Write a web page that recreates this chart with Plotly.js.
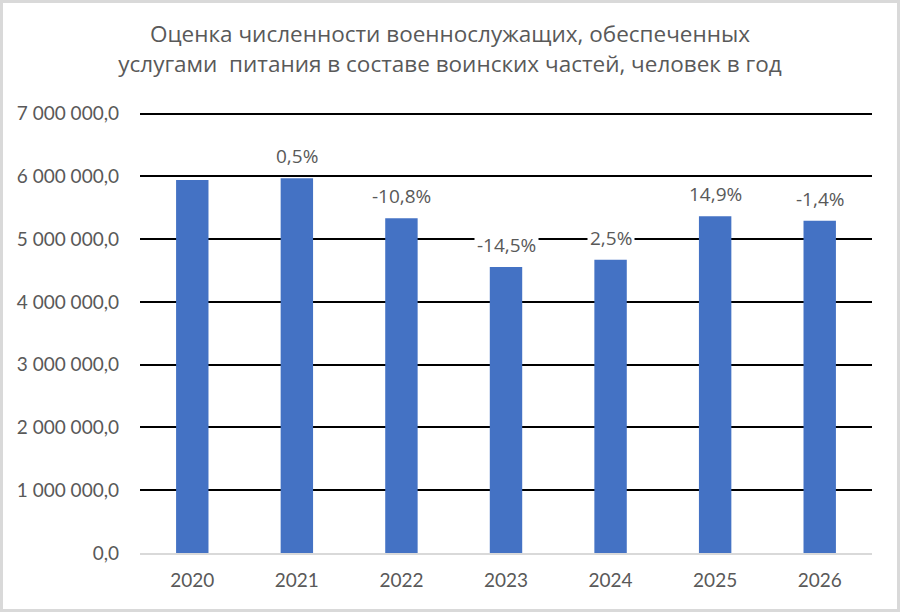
<!DOCTYPE html>
<html>
<head>
<meta charset="utf-8">
<script src="https://cdn.plot.ly/plotly-3.0.1.min.js"></script>
<style>
  html, body { margin: 0; padding: 0; background: #fff; }
  #chart { width: 900px; height: 612px; box-sizing: border-box; border: 3px solid #d9d9d9; }
</style>
</head>
<body>
<div id="chart"></div>
<script>
// values
const years = ['2020', '2021', '2022', '2023', '2024', '2025', '2026'];
const people = [5940000, 5970000, 5330000, 4555000, 4670000, 5365000, 5290000];
const growth = ['', '0,5%', '-10,8%', '-14,5%', '2,5%', '14,9%', '-1,4%'];
const yTicks = [0, 1000000, 2000000, 3000000, 4000000, 5000000, 6000000, 7000000];

const font = 'Lato, "Open Sans", sans-serif';
const titleFont = '"Open Sans", Lato, sans-serif';
const grey = '#595959';

const trace = {
  type: 'bar',
  x: years,
  y: people,
  marker: {color: '#4472c4'},
  width: 0.31,
  hoverinfo: 'skip'
};

// growth labels above the bars, white box cuts the gridline like in the original
// (category axis -> annotation x is the category index)
const notes = years.map((yr, i) => ({
  x: i,
  y: people[i],
  text: growth[i],
  showarrow: false,
  yanchor: 'bottom',
  yshift: 6,
  bgcolor: '#ffffff',
  borderpad: 2,
  font: {family: titleFont, size: 19, color: grey}
})).filter(a => a.text !== '');

const layout = {
  width: 894,
  height: 606,
  margin: {l: 137, r: 25, t: 108, b: 56},
  paper_bgcolor: '#ffffff',
  plot_bgcolor: '#ffffff',
  showlegend: false,
  title: {
    text: 'Оценка численности военнослужащих, обеспеченных<br>услугами  питания в составе воинских частей, человек в год',
    x: 0.5,
    xanchor: 'center',
    y: 0.935,
    yanchor: 'top',
    font: {family: titleFont, size: 22.5, color: grey}
  },
  xaxis: {
    type: 'category',
    range: [-0.5, years.length - 0.5],
    showgrid: false,
    showline: true,
    linecolor: '#d9d9d9',
    linewidth: 2,
    ticks: '',
    tickfont: {family: font, size: 19, color: grey},
    ticklabelstandoff: 9
  },
  yaxis: {
    // a little headroom so the 7 000 000 gridline is not dropped at the edge
    range: [0, 7040000],
    tickvals: yTicks,
    tickformat: ',.1f',
    showgrid: true,
    gridcolor: '#000000',
    gridwidth: 2,
    zeroline: false,
    showline: false,
    ticks: '',
    ticklabelstandoff: 20,
    tickfont: {family: font, size: 19, color: grey}
  },
  separators: ', ',
  annotations: notes
};

Plotly.newPlot('chart', [trace], layout, {displayModeBar: false, staticPlot: true});
</script>
</body>
</html>
